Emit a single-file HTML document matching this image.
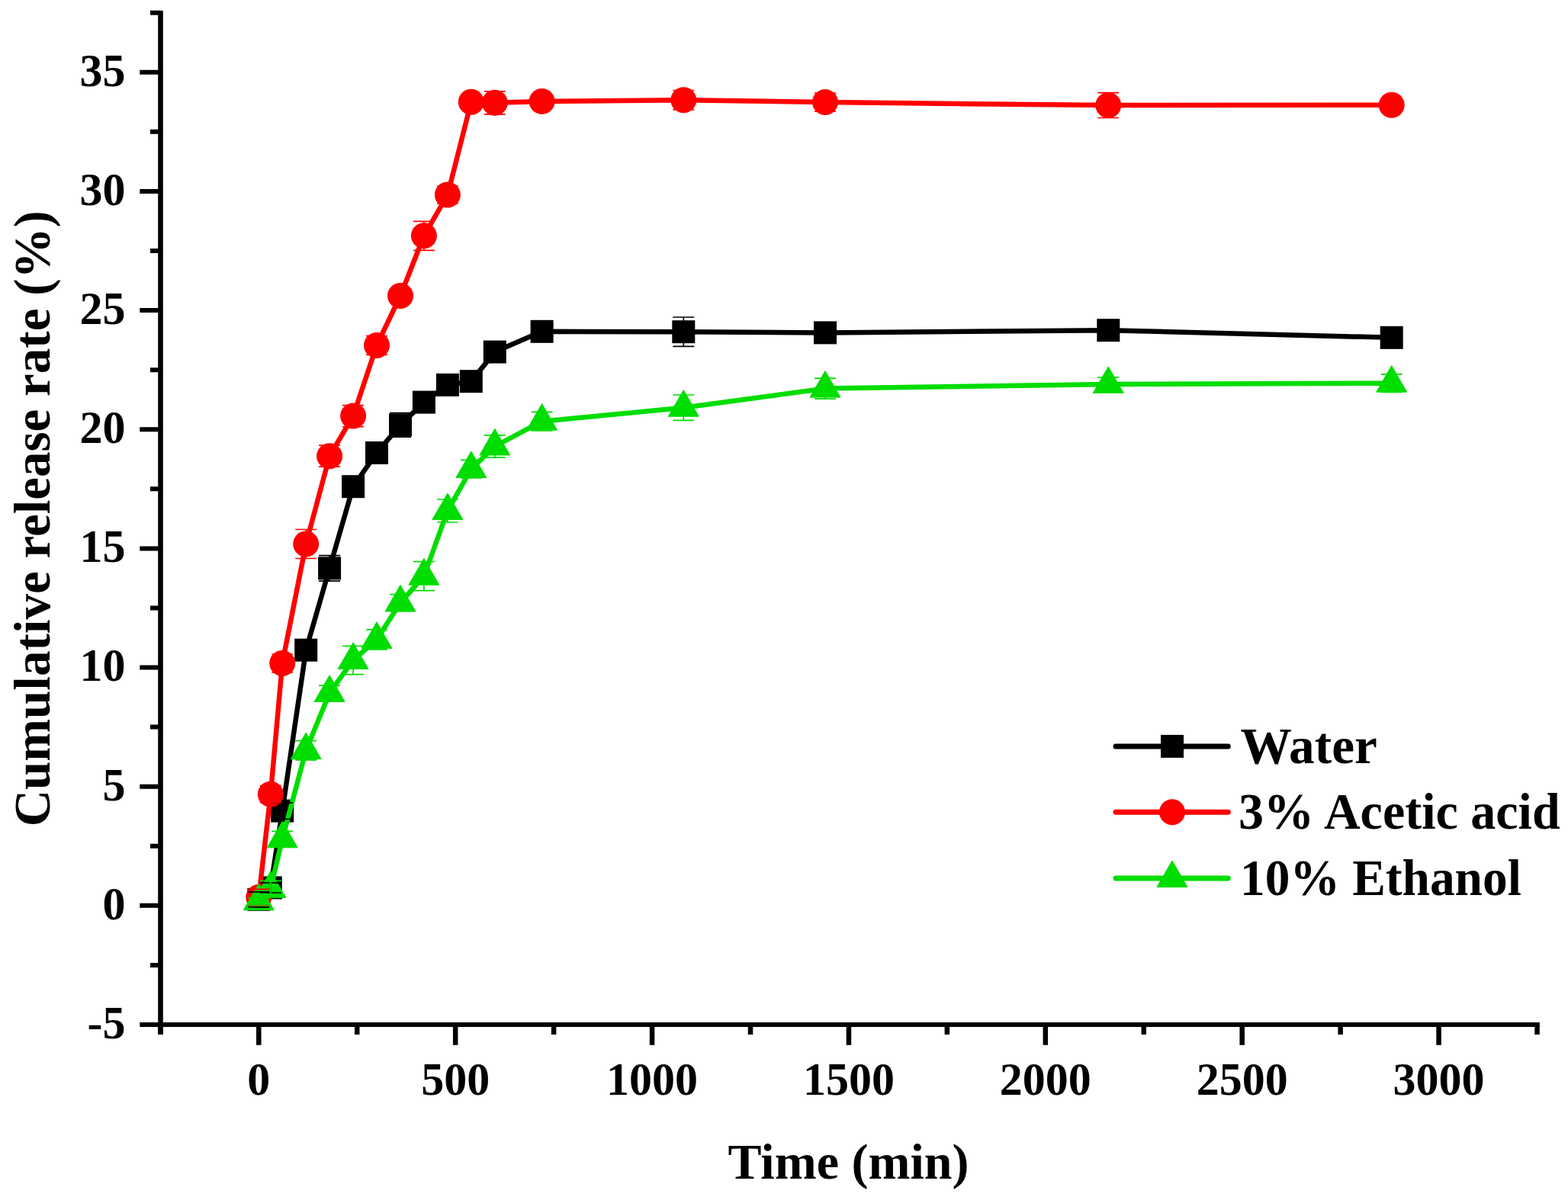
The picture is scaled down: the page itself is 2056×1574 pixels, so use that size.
<!DOCTYPE html>
<html><head><meta charset="utf-8"><title>Cumulative release rate</title>
<style>html,body{margin:0;padding:0;background:#fff;}svg{display:block;}</style>
</head><body>
<svg width="2056" height="1574" viewBox="0 0 2056 1574">
<rect width="2056" height="1574" fill="#fff"/>
<g stroke="#000" fill="none">
<path d="M210.5 14V1357" stroke-width="6.6"/>
<path d="M207.2 1344H2018.8" stroke-width="6"/>
<path d="M183.3 1344.00H210.5M197 1265.92H210.5M183.3 1187.85H210.5M197 1109.77H210.5M183.3 1031.70H210.5M197 953.62H210.5M183.3 875.55H210.5M197 797.47H210.5M183.3 719.40H210.5M197 641.32H210.5M183.3 563.25H210.5M197 485.17H210.5M183.3 407.10H210.5M197 329.02H210.5M183.3 250.95H210.5M197 172.87H210.5M183.3 94.80H210.5M197 16.72H210.5" stroke-width="6"/>
<path d="M210.36 1344V1357M339.30 1344V1370.8M468.24 1344V1357M597.18 1344V1370.8M726.12 1344V1357M855.06 1344V1370.8M984.00 1344V1357M1112.94 1344V1370.8M1241.88 1344V1357M1370.82 1344V1370.8M1499.76 1344V1357M1628.70 1344V1370.8M1757.64 1344V1357M1886.58 1344V1370.8M2015.52 1344V1357" stroke-width="6.5"/>
</g>
<g font-family="'Liberation Serif','Times New Roman',serif" font-weight="bold" font-size="60" fill="#000">
<text transform="translate(164.6 1361.9) scale(1 1.02)" text-anchor="end">-5</text>
<text transform="translate(164.6 1205.8) scale(1 1.02)" text-anchor="end">0</text>
<text transform="translate(164.6 1049.6) scale(1 1.02)" text-anchor="end">5</text>
<text transform="translate(164.6 893.4) scale(1 1.02)" text-anchor="end">10</text>
<text transform="translate(164.6 737.3) scale(1 1.02)" text-anchor="end">15</text>
<text transform="translate(164.6 581.1) scale(1 1.02)" text-anchor="end">20</text>
<text transform="translate(164.6 425.0) scale(1 1.02)" text-anchor="end">25</text>
<text transform="translate(164.6 268.8) scale(1 1.02)" text-anchor="end">30</text>
<text transform="translate(164.6 112.7) scale(1 1.02)" text-anchor="end">35</text>
<text transform="translate(339.3 1436.4) scale(1 1.02)" text-anchor="middle">0</text>
<text transform="translate(597.2 1436.4) scale(1 1.02)" text-anchor="middle">500</text>
<text transform="translate(855.1 1436.4) scale(1 1.02)" text-anchor="middle">1000</text>
<text transform="translate(1112.9 1436.4) scale(1 1.02)" text-anchor="middle">1500</text>
<text transform="translate(1370.8 1436.4) scale(1 1.02)" text-anchor="middle">2000</text>
<text transform="translate(1628.7 1436.4) scale(1 1.02)" text-anchor="middle">2500</text>
<text transform="translate(1886.6 1436.4) scale(1 1.02)" text-anchor="middle">3000</text>
</g>
<text font-family="'Liberation Serif','Times New Roman',serif" font-weight="bold" font-size="66" x="1112.5" y="1546.3" text-anchor="middle">Time (min)</text>
<text font-family="'Liberation Serif','Times New Roman',serif" font-weight="bold" font-size="67" transform="translate(65 680.3) rotate(-90)" text-anchor="middle">Cumulative release rate (%)</text>
<polyline points="339.3,1179.8 354.8,1164.4 370.2,1063.6 401.2,852.7 432.1,745.4 463.1,638.2 494.0,594.0 525.0,557.4 555.9,527.6 586.9,504.9 617.8,500.2 648.8,461.6 710.6,434.8 896.3,435.2 1082.0,436.4 1453.3,433.2 1824.7,442.8" fill="none" stroke="#000000" stroke-width="6.5" stroke-linejoin="round" stroke-linecap="round"/>
<rect x="324.3" y="1164.8" width="30" height="30" fill="#000000"/>
<rect x="339.8" y="1149.4" width="30" height="30" fill="#000000"/>
<rect x="355.2" y="1048.6" width="30" height="30" fill="#000000"/>
<rect x="386.2" y="837.7" width="30" height="30" fill="#000000"/>
<rect x="417.1" y="730.4" width="30" height="30" fill="#000000"/>
<rect x="448.1" y="623.2" width="30" height="30" fill="#000000"/>
<rect x="479.0" y="579.0" width="30" height="30" fill="#000000"/>
<rect x="510.0" y="542.4" width="30" height="30" fill="#000000"/>
<rect x="540.9" y="512.6" width="30" height="30" fill="#000000"/>
<rect x="571.9" y="489.9" width="30" height="30" fill="#000000"/>
<rect x="602.8" y="485.2" width="30" height="30" fill="#000000"/>
<rect x="633.8" y="446.6" width="30" height="30" fill="#000000"/>
<rect x="695.6" y="419.8" width="30" height="30" fill="#000000"/>
<rect x="881.3" y="420.2" width="30" height="30" fill="#000000"/>
<rect x="1067.0" y="421.4" width="30" height="30" fill="#000000"/>
<rect x="1438.3" y="418.2" width="30" height="30" fill="#000000"/>
<rect x="1809.7" y="427.8" width="30" height="30" fill="#000000"/>
<polyline points="339.3,1176.9 354.8,1041.7 370.2,870.0 401.2,713.5 432.1,598.2 463.1,545.6 494.0,453.0 525.0,388.0 555.9,309.3 586.9,255.5 617.8,133.7 648.8,134.8 710.6,132.9 896.3,131.2 1082.0,134.1 1453.3,138.1 1824.7,137.7" fill="none" stroke="#ff0000" stroke-width="6.5" stroke-linejoin="round" stroke-linecap="round"/>
<circle cx="339.3" cy="1176.9" r="17" fill="#ff0000"/>
<circle cx="354.8" cy="1041.7" r="17" fill="#ff0000"/>
<circle cx="370.2" cy="870.0" r="17" fill="#ff0000"/>
<circle cx="401.2" cy="713.5" r="17" fill="#ff0000"/>
<circle cx="432.1" cy="598.2" r="17" fill="#ff0000"/>
<circle cx="463.1" cy="545.6" r="17" fill="#ff0000"/>
<circle cx="494.0" cy="453.0" r="17" fill="#ff0000"/>
<circle cx="525.0" cy="388.0" r="17" fill="#ff0000"/>
<circle cx="555.9" cy="309.3" r="17" fill="#ff0000"/>
<circle cx="586.9" cy="255.5" r="17" fill="#ff0000"/>
<circle cx="617.8" cy="133.7" r="17" fill="#ff0000"/>
<circle cx="648.8" cy="134.8" r="17" fill="#ff0000"/>
<circle cx="710.6" cy="132.9" r="17" fill="#ff0000"/>
<circle cx="896.3" cy="131.2" r="17" fill="#ff0000"/>
<circle cx="1082.0" cy="134.1" r="17" fill="#ff0000"/>
<circle cx="1453.3" cy="138.1" r="17" fill="#ff0000"/>
<circle cx="1824.7" cy="137.7" r="17" fill="#ff0000"/>
<polyline points="339.3,1182.2 354.8,1165.8 370.2,1100.3 401.2,984.2 432.1,908.9 463.1,866.0 494.0,838.9 525.0,790.5 555.9,755.7 586.9,670.0 617.8,615.1 648.8,585.5 710.6,552.7 896.3,534.7 1082.0,509.6 1453.3,504.0 1824.7,502.7" fill="none" stroke="#00dd00" stroke-width="6.5" stroke-linejoin="round" stroke-linecap="round"/>
<path d="M339.3 1159.1L359.3 1193.7L319.3 1193.7Z" fill="#00dd00" stroke="#00dd00" stroke-width="1" stroke-linejoin="round"/>
<path d="M354.8 1142.7L374.8 1177.3L334.8 1177.3Z" fill="#00dd00" stroke="#00dd00" stroke-width="1" stroke-linejoin="round"/>
<path d="M370.2 1077.2L390.2 1111.8L350.2 1111.8Z" fill="#00dd00" stroke="#00dd00" stroke-width="1" stroke-linejoin="round"/>
<path d="M401.2 961.1L421.2 995.7L381.2 995.7Z" fill="#00dd00" stroke="#00dd00" stroke-width="1" stroke-linejoin="round"/>
<path d="M432.1 885.8L452.1 920.4L412.1 920.4Z" fill="#00dd00" stroke="#00dd00" stroke-width="1" stroke-linejoin="round"/>
<path d="M463.1 842.9L483.1 877.5L443.1 877.5Z" fill="#00dd00" stroke="#00dd00" stroke-width="1" stroke-linejoin="round"/>
<path d="M494.0 815.8L514.0 850.4L474.0 850.4Z" fill="#00dd00" stroke="#00dd00" stroke-width="1" stroke-linejoin="round"/>
<path d="M525.0 767.4L545.0 802.0L505.0 802.0Z" fill="#00dd00" stroke="#00dd00" stroke-width="1" stroke-linejoin="round"/>
<path d="M555.9 732.6L575.9 767.2L535.9 767.2Z" fill="#00dd00" stroke="#00dd00" stroke-width="1" stroke-linejoin="round"/>
<path d="M586.9 646.9L606.9 681.5L566.9 681.5Z" fill="#00dd00" stroke="#00dd00" stroke-width="1" stroke-linejoin="round"/>
<path d="M617.8 592.0L637.8 626.6L597.8 626.6Z" fill="#00dd00" stroke="#00dd00" stroke-width="1" stroke-linejoin="round"/>
<path d="M648.8 562.4L668.8 597.0L628.8 597.0Z" fill="#00dd00" stroke="#00dd00" stroke-width="1" stroke-linejoin="round"/>
<path d="M710.6 529.6L730.6 564.2L690.6 564.2Z" fill="#00dd00" stroke="#00dd00" stroke-width="1" stroke-linejoin="round"/>
<path d="M896.3 511.6L916.3 546.2L876.3 546.2Z" fill="#00dd00" stroke="#00dd00" stroke-width="1" stroke-linejoin="round"/>
<path d="M1082.0 486.5L1102.0 521.1L1062.0 521.1Z" fill="#00dd00" stroke="#00dd00" stroke-width="1" stroke-linejoin="round"/>
<path d="M1453.3 480.9L1473.3 515.5L1433.3 515.5Z" fill="#00dd00" stroke="#00dd00" stroke-width="1" stroke-linejoin="round"/>
<path d="M1824.7 479.6L1844.7 514.2L1804.7 514.2Z" fill="#00dd00" stroke="#00dd00" stroke-width="1" stroke-linejoin="round"/>
<path d="M325.3 1169.8H353.3M325.3 1189.8H353.3M354.8 1157.8V1171.0M340.8 1157.8H368.8M340.8 1171.0H368.8M370.2 1052.8V1074.4M356.2 1052.8H384.2M356.2 1074.4H384.2M432.1 728.7V762.1M418.1 728.7H446.1M418.1 762.1H446.1M525.0 541.7V573.1M511.0 541.7H539.0M511.0 573.1H539.0M896.3 416.0V454.4M882.3 416.0H910.3M882.3 454.4H910.3" stroke="#000000" stroke-width="1.7" fill="none"/>
<path d="M325.3 1166.3H353.3M325.3 1187.5H353.3M354.8 1030.7V1052.7M340.8 1030.7H368.8M340.8 1052.7H368.8M370.2 858.0V882.0M356.2 858.0H384.2M356.2 882.0H384.2M401.2 694.5V732.5M387.2 694.5H415.2M387.2 732.5H415.2M432.1 584.2V612.2M418.1 584.2H446.1M418.1 612.2H446.1M463.1 531.6V559.6M449.1 531.6H477.1M449.1 559.6H477.1M494.0 440.6V465.4M480.0 440.6H508.0M480.0 465.4H508.0M555.9 290.3V328.3M541.9 290.3H569.9M541.9 328.3H569.9M586.9 244.0V267.0M572.9 244.0H600.9M572.9 267.0H600.9M648.8 119.8V149.8M634.8 119.8H662.8M634.8 149.8H662.8M896.3 118.5V143.8M882.3 118.5H910.3M882.3 143.8H910.3M1082.0 122.1V146.1M1068.0 122.1H1096.0M1068.0 146.1H1096.0M1453.3 121.7V154.5M1439.3 121.7H1467.3M1439.3 154.5H1467.3" stroke="#ff0000" stroke-width="1.7" fill="none"/>
<path d="M325.3 1177.8H353.3M325.3 1186.6H353.3M354.8 1155.3V1176.3M340.8 1155.3H368.8M340.8 1176.3H368.8M370.2 1090.3V1110.3M356.2 1090.3H384.2M356.2 1110.3H384.2M401.2 971.6V996.8M387.2 971.6H415.2M387.2 996.8H415.2M432.1 899.1V918.7M418.1 899.1H446.1M418.1 918.7H446.1M463.1 847.4V884.6M449.1 847.4H477.1M449.1 884.6H477.1M494.0 825.9V851.9M480.0 825.9H508.0M480.0 851.9H508.0M525.0 779.7V801.3M511.0 779.7H539.0M511.0 801.3H539.0M555.9 736.7V774.7M541.9 736.7H569.9M541.9 774.7H569.9M586.9 655.0V685.0M572.9 655.0H600.9M572.9 685.0H600.9M617.8 603.3V626.9M603.8 603.3H631.8M603.8 626.9H631.8M648.8 570.9V600.1M634.8 570.9H662.8M634.8 600.1H662.8M710.6 540.4V565.0M696.6 540.4H724.6M696.6 565.0H724.6M896.3 518.0V551.4M882.3 518.0H910.3M882.3 551.4H910.3M1082.0 496.1V523.1M1068.0 496.1H1096.0M1068.0 523.1H1096.0M1453.3 495.2V512.8M1439.3 495.2H1467.3M1439.3 512.8H1467.3M1824.7 490.9V514.5M1810.7 490.9H1838.7M1810.7 514.5H1838.7" stroke="#00dd00" stroke-width="1.7" fill="none"/>
<path d="M1463 978.9H1610.3" stroke="#000000" stroke-width="7" stroke-linecap="round"/>
<rect x="1522.0" y="963.9" width="30" height="30" fill="#000000"/>
<text font-family="'Liberation Serif','Times New Roman',serif" font-weight="bold" font-size="66" transform="translate(1626.6 1001.1) scale(1.019 1.02)">Water</text>
<path d="M1463 1065.2H1610.3" stroke="#ff0000" stroke-width="7" stroke-linecap="round"/>
<circle cx="1537.0" cy="1065.2" r="17" fill="#ff0000"/>
<text font-family="'Liberation Serif','Times New Roman',serif" font-weight="bold" font-size="66" transform="translate(1624.1 1087.4) scale(1.0 1.02)">3% Acetic acid</text>
<path d="M1463 1152.1H1610.3" stroke="#00dd00" stroke-width="7" stroke-linecap="round"/>
<path d="M1537.0 1129.0L1557.0 1163.6L1517.0 1163.6Z" fill="#00dd00" stroke="#00dd00" stroke-width="1" stroke-linejoin="round"/>
<text font-family="'Liberation Serif','Times New Roman',serif" font-weight="bold" font-size="66" transform="translate(1626 1174.3) scale(0.991 1.02)">10% Ethanol</text>
</svg>
</body></html>
